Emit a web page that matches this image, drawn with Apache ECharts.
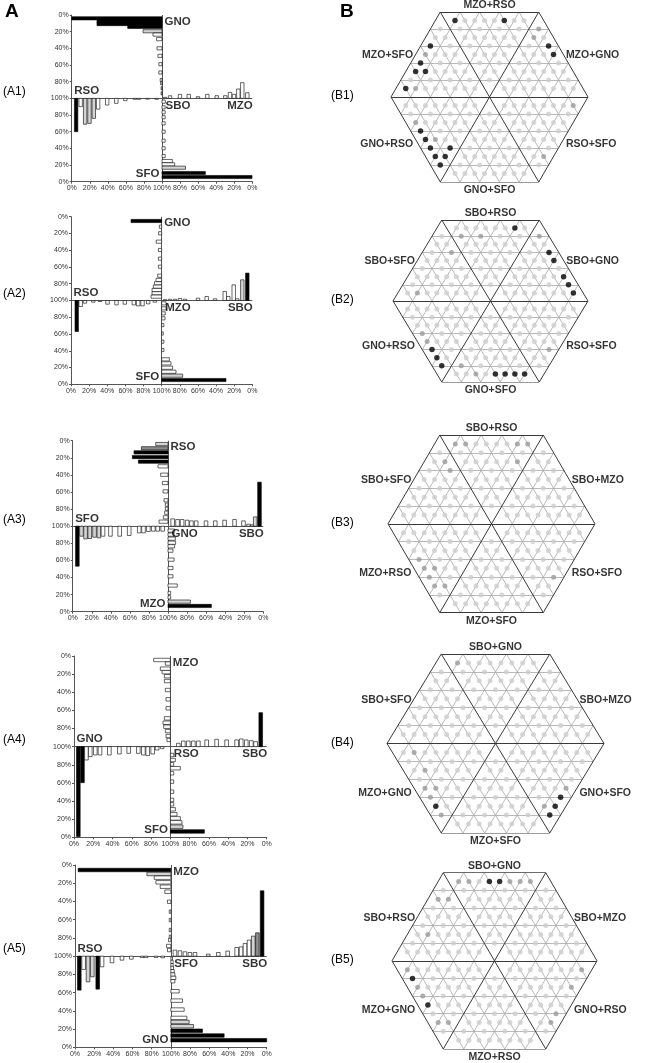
<!DOCTYPE html>
<html><head><meta charset="utf-8">
<script src="https://cdn.jsdelivr.net/npm/echarts@6/dist/echarts.min.js"></script>
<style>html,body{margin:0;padding:0;background:#fff}#c{width:645px;height:1063px}</style>
</head><body><div id="c"></div>
<script>
// ================= DATA =================
// Bars: [position on arm axis (0-200 panel %), bar length (%), shade 0=white 1=light grey 2=grey 3=black]
const A1_names = ['GNO','RSO','SFO','MZO','SBO']; // top, left, bottom, right, centre
const A1_top = [[4,100,3],[7.6,72,3],[10.9,72,3],[14.2,38,3],[19.5,21,1],[23.5,10,0],[29,6,0],[40,5.5,0],[49,4.5,0],[59,3.5,0],[69,3.5,0],[78,2,0],[82,1.5,0],[88,1,0],[94,1,0]];
const A1_left = [[4.9,40,3],[9.9,10,0],[14.9,31,1],[19.7,30,1],[24.5,24,1],[29.3,13,0],[39.3,8,0],[49.4,6,0],[59.4,2.8,0],[70,1.2,0],[74.5,1.2,0],[84,1,0],[94,1.2,0]];
const A1_bottom = [[104,3.7,0],[110.8,3.5,0],[116.7,3.5,0],[122.7,3.5,0],[130,3.5,0],[140,3.5,0],[150.8,3.5,0],[159.9,3.5,0],[169.2,3.5,0],[175.2,11.5,0],[179.2,14,0],[183.2,26,1],[189.6,48,3],[194.4,99.7,3]];
const A1_right = [[103.3,1.2,0],[108.9,3.1,0],[119.9,4.8,0],[129.6,4.8,0],[139.9,2,0],[150.2,4.8,0],[160.6,3.2,0],[170.1,3.2,0],[175.3,7.2,0],[179.7,4.8,0],[184.5,11.2,0],[188.9,18.8,0],[194.5,6.8,0]];

const A2_names = ['GNO','RSO','SFO','SBO','MZO'];
const A2_top = [[5.1,33.8,3],[11.9,2.5,0],[19.8,3.3,0],[29.8,6,0],[39.7,3.6,0],[50.1,3.6,0],[59.7,3.6,0],[70.4,4.4,0],[75.5,6.2,0],[79.5,8,0],[83.5,9.2,0],[87.5,10.6,0],[91.4,10.6,0],[95.4,11.7,0]];
const A2_left = [[6.3,37,3],[10.7,7.2,0],[15.4,3.2,0],[24.6,2,0],[32,1.2,0],[40.3,4.4,0],[50.2,5.2,0],[59.4,4.4,0],[69.3,5.2,0],[74.1,6.4,0],[78.9,6.4,0],[85.1,4,0],[92.5,2,0]];
const A2_bottom = [[103.4,4.8,0],[109.4,4.8,0],[115.4,4,0],[121.3,3.7,0],[129.3,2.5,0],[139.4,1.8,0],[149.1,2.5,0],[159.1,2.5,0],[170.2,8.5,0],[175,10.3,0],[180.2,12.1,0],[185,15.8,0],[189.7,23.2,1],[194.9,71,3]];
const A2_right = [[103.7,1,0],[109.2,1.5,0],[114.7,1.5,0],[120.2,2.4,0],[125.8,1.5,0],[140.1,2.8,0],[149.7,4.8,0],[158.9,2,0],[169.6,10.8,0],[173.5,4.8,0],[179.5,18.7,0],[183.5,2,0],[189,24.7,1],[194.5,32.7,3]];

const A3_names = ['RSO','SFO','MZO','SBO','GNO'];
const A3_top = [[3.9,12.9,1],[8.9,27.9,2],[13.6,35.7,3],[19.1,37.4,3],[24.5,31.1,3],[30,10.5,0],[39.8,7.7,0],[49.5,5.9,0],[59.3,5.2,0],[69.7,4.2,0],[74.8,2.8,0],[79.5,2.8,0],[84.2,3.5,0],[89.6,4.9,0],[94.7,9.4,0]];
const A3_left = [[4.9,46.8,3],[9.2,11.7,1],[13.5,14.8,1],[17.9,14.4,1],[22.9,12.9,1],[27.5,13.6,1],[31.8,11.7,0],[39.6,11.7,0],[49.3,11.7,0],[59.3,10.9,0],[69.8,7.8,0],[74.3,7.8,0],[79.4,6.2,0],[84.6,5.8,0],[89.2,5.8,0],[94.4,5.8,0]];
const A3_bottom = [[105.2,7,0],[109.9,6.4,0],[114.6,7.7,0],[119.3,8,0],[123.5,7,0],[128.6,5.2,0],[139.1,6.4,0],[148.9,5.2,0],[158.6,5.2,0],[169.4,9.7,0],[178.1,2.8,0],[183.2,2.8,0],[188.2,23.5,1],[193.3,45.5,3]];
const A3_right = [[104.9,8.6,0],[110,7.8,0],[114.8,7.8,0],[120.1,7,0],[124.6,6.2,0],[129.6,6.2,0],[139.9,6.2,0],[149.6,6.2,0],[159.4,7,0],[169.8,7.8,0],[179.2,6.2,0],[184.5,2.3,0],[188.5,1.6,0],[191.5,10.9,1],[196,51.5,3]];

const A4_names = ['MZO','GNO','SFO','SBO','RSO'];
const A4_top = [[4.4,17.3,0],[8.3,5.2,0],[14,10.4,0],[17.8,8.6,0],[22.3,6.2,0],[27.6,6.2,0],[37.5,5.2,0],[47.8,4.5,0],[57.7,4.5,0],[68.8,6.2,0],[73.6,7.6,0],[78,6.9,0],[82.8,5.2,0],[88.3,4.5,0],[92.6,3.5,0]];
const A4_left = [[4.5,99.3,3],[8.8,39.7,3],[12.9,14.7,0],[16.9,11,0],[22.1,9.2,0],[27,9.2,0],[36.7,9.2,0],[47.1,8.1,0],[56.8,7.4,0],[66.8,7.4,0],[72,9.2,0],[76.5,9.9,0],[81.7,8.1,0],[86.3,3.7,0],[91.5,2.2,0]];
const A4_bottom = [[109.2,3.5,0],[114.7,5.2,0],[119.5,3.5,0],[123.8,10.4,0],[129.4,3.5,0],[138.6,3.5,0],[149.7,3.5,0],[158.8,3.5,0],[163.6,3.5,0],[169.1,5.2,0],[174.6,6.9,0],[179.1,10.4,0],[183.5,12.1,0],[188.3,13.1,1],[193.5,35.3,3]];
const A4_right = [[108.3,3.7,0],[113.5,6.2,0],[118.7,6.2,0],[123.9,6.2,0],[129.1,6.2,0],[137.7,7.4,0],[148,8.1,0],[158.4,7.4,0],[168.8,7.4,0],[173.6,8.5,0],[178.8,7.4,0],[184,6.6,0],[188.5,5.5,0],[193.8,37.5,3]];

const A5_names = ['MZO','RSO','GNO','SBO','SFO'];
const A5_top = [[5.5,96.7,3],[9.9,25,1],[13.9,17.4,0],[19,15.6,0],[23.8,11.1,0],[29.3,6.3,0],[40.3,3.5,0],[51.2,1.7,0],[60.4,1.7,0],[71.3,1.7,0],[78.7,1.7,0],[82.3,2.4,0],[88.9,4.5,0],[93.3,3.5,0]];
const A5_left = [[4.5,37.3,3],[9,14.6,0],[13.6,28.2,1],[18.1,22.7,1],[23.7,36.2,3],[28.2,11.7,0],[38.6,7.3,0],[49,4.4,0],[58.8,3.3,0],[70,1.5,0],[74,1.5,0],[84.5,1.5,0],[91.5,1.8,0]];
const A5_bottom = [[102.7,1.7,0],[106.3,2.4,0],[110,2.4,0],[113,2.8,0],[116.6,3.5,0],[120.2,4.2,0],[123.9,5.2,0],[127.5,4.2,0],[138.5,8.7,0],[148.8,12.2,0],[158.6,13.9,0],[167.8,16.7,0],[172.2,19.1,1],[176.9,23.6,1],[181.8,33,3],[187.1,55.6,3],[192.2,100,3]];
const A5_right = [[104.3,6.6,0],[109.5,5.9,0],[114.7,4.8,0],[119.9,4,0],[125.2,4,0],[139,2.2,0],[149.5,4,0],[159.3,5.5,0],[168.7,9.5,0],[173.3,10.2,0],[177.4,13.9,0],[181.6,17.6,0],[186,22,1],[190.3,25.6,2],[195.2,71.7,3]];

const A_ticks = ['0%','20%','40%','60%','80%','100%','80%','60%','40%','20%','0%'];

// Hexagons: labels [top, upper-left, upper-right, lower-left, lower-right, bottom]
const B1_names = ['MZO+RSO','MZO+SFO','MZO+GNO','GNO+RSO','RSO+SFO','GNO+SFO'];
const B2_names = ['SBO+RSO','SBO+SFO','SBO+GNO','GNO+RSO','RSO+SFO','GNO+SFO'];
const B3_names = ['SBO+RSO','SBO+SFO','SBO+MZO','MZO+RSO','RSO+SFO','MZO+SFO'];
const B4_names = ['SBO+GNO','SBO+SFO','SBO+MZO','MZO+GNO','GNO+SFO','MZO+SFO'];
const B5_names = ['SBO+GNO','SBO+RSO','SBO+MZO','MZO+GNO','GNO+RSO','MZO+RSO'];
// highlighted dots: [x, row] in lattice units (side = 5 cells, row = cell heights from centre)
const B1_black = [[-1.75,4.5],[0.75,4.5],[-3,3],[-3.5,2],[-3.75,1.5],[-3.25,1.5],[-4.25,0.5],[3,3],[3.25,2.5],[-3.5,-2],[-3.25,-2.5],[-3,-3],[-2,-3],[-2.75,-3.5],[-2.25,-3.5],[-2.5,-4]];
const B1_grey = [[2.5,4],[2.25,3.5],[-3.25,2.5],[-3.75,0.5],[-3.5,1],[4.25,-0.5],[-3.75,-1.5],[-2.75,-2.5],[2.75,-3.5]];
const B2_black = [[1.25,4.5],[3,3],[3.25,2.5],[3.75,1.5],[4,1],[4.25,0.5],[-3,-3],[-2.75,-3.5],[-2.5,-4],[0.25,-4.5],[0.75,-4.5],[1.25,-4.5],[1.75,-4.5]];
const B2_grey = [[-1.75,4],[-0.25,4],[-1.75,3.5],[2.75,4],[3.25,3.5],[-3.5,1],[-3.5,-2],[-3.25,-2.5],[-1.5,-4],[-0.75,-4.5],[3.25,-3.5]];
const B3_black = [];
const B3_grey = [[-1.75,4.5],[-1.25,4.5],[-2,4],[-1.75,3.5],[1.25,4.5],[1.75,4.5],[1.25,3.5],[-3.5,-2],[-3,-2],[-3.25,-2.5],[-2.75,-2.5],[-3,-3],[-2.75,-3.5],[-2.25,-3.5],[-2.5,-3],[3.25,-3.5]];
const B4_black = [[-2.75,-3.5],[3,-3],[2.75,-3.5],[2.5,-4]];
const B4_grey = [[-1.75,4.5],[-3.5,-1],[-3.25,-1.5],[-3,-2],[-3.25,-2.5],[-2.75,-2.5],[-3,-3],[-2.5,-3.5],[-2.5,-4],[3.25,-2.5],[2.25,-3.5]];
const B5_black = [[-0.25,4.5],[0.25,4.5],[-4,-1],[-3.25,-2.5]];
const B5_grey = [[-1.75,4.5],[-1.25,4.5],[0.75,4.5],[1.25,4.5],[1.75,4.5],[-2,4],[-2.5,3],[-3,2],[-4.25,-0.5],[-3.75,-1.5],[-3.5,-2],[-2.75,-3.5],[-2.25,-3.5],[4.25,-0.5],[3.75,-1.5],[3.25,-3.5],[2.75,-3.5]];

// ================= LAYOUT / STYLE =================
const SHADES = ['#ffffff','#d4d4d4','#8c8c8c','#000000'];
const FONT = '"Liberation Sans", Arial, sans-serif';
const A_panels = [
  {names:A1_names, arms:[A1_top,A1_left,A1_bottom,A1_right], box:[71.7,252.3,15,181.7], tag:'(A1)'},
  {names:A2_names, arms:[A2_top,A2_left,A2_bottom,A2_right], box:[71,252.3,216.7,384.3], tag:'(A2)'},
  {names:A3_names, arms:[A3_top,A3_left,A3_bottom,A3_right], box:[72.7,263.3,440.7,611.7], tag:'(A3)'},
  {names:A4_names, arms:[A4_top,A4_left,A4_bottom,A4_right], box:[74,266.7,656,837.3], tag:'(A4)'},
  {names:A5_names, arms:[A5_top,A5_left,A5_bottom,A5_right], box:[75,266.7,865,1047.3], tag:'(A5)'}
];
const B_panels = [
  {names:B1_names, black:B1_black, grey:B1_grey, box:[391,588,12,182], tag:'(B1)'},
  {names:B2_names, black:B2_black, grey:B2_grey, box:[393,588,220,382], tag:'(B2)'},
  {names:B3_names, black:B3_black, grey:B3_grey, box:[388,595,435,612.7], tag:'(B3)'},
  {names:B4_names, black:B4_black, grey:B4_grey, box:[387,604,654,833], tag:'(B4)'},
  {names:B5_names, black:B5_black, grey:B5_grey, box:[392,597,872.7,1049], tag:'(B5)'}
];
const BAR_T = 3.8;

const option = {animation:false, backgroundColor:'#fff', grid:[], xAxis:[], yAxis:[], series:[], graphic:[]};

function tickFmt(v){ return A_ticks[Math.round(v/20)]; }

A_panels.forEach((p,i)=>{
  const [l,r,t,b] = p.box;
  option.grid.push({left:l, top:t, width:r-l, height:b-t});
  const axCommon = {gridIndex:i, type:'value', min:0, max:200, interval:20,
    axisLine:{show:true, onZero:false, lineStyle:{color:'#555', width:1}},
    axisTick:{show:true, length:2, lineStyle:{color:'#555'}},
    axisLabel:{fontSize:7, color:'#333', margin:3, formatter:tickFmt, fontFamily:FONT, showMinLabel:true, showMaxLabel:true},
    splitLine:{show:false}};
  option.xAxis.push(Object.assign({position:'bottom'}, axCommon));
  option.yAxis.push(Object.assign({position:'left', inverse:true}, axCommon));
  const rects = [];
  const h = BAR_T/2;
  p.arms[0].forEach(([pos,len,s])=>rects.push([100-len,pos-h,100,pos+h,s]));
  p.arms[1].forEach(([pos,len,s])=>rects.push([pos-h,100,pos+h,100+len,s]));
  p.arms[2].forEach(([pos,len,s])=>rects.push([100,pos-h,100+len,pos+h,s]));
  p.arms[3].forEach(([pos,len,s])=>rects.push([pos-h,100-len,pos+h,100,s]));
  option.series.push({type:'lines', coordinateSystem:'cartesian2d', xAxisIndex:i, yAxisIndex:i, silent:true, z:2,
    data:[{coords:[[100,0],[100,200]]},{coords:[[0,100],[200,100]]}], lineStyle:{color:'#555', width:1, opacity:1}});
  option.series.push({type:'custom', coordinateSystem:'cartesian2d', xAxisIndex:i, yAxisIndex:i, silent:true, z:3,
    data:rects, encode:{x:[0,2], y:[1,3]},
    renderItem:(params, api)=>{
      const p1 = api.coord([api.value(0), api.value(1)]);
      const p2 = api.coord([api.value(2), api.value(3)]);
      return {type:'rect', shape:{x:Math.min(p1[0],p2[0]), y:Math.min(p1[1],p2[1]), width:Math.abs(p2[0]-p1[0]), height:Math.abs(p2[1]-p1[1])},
        style:{fill:SHADES[api.value(4)], stroke:'#000', lineWidth:0.6}};
    }});
  const n = p.names;
  option.series.push({type:'scatter', xAxisIndex:i, yAxisIndex:i, silent:true, z:6, symbolSize:1, itemStyle:{color:'rgba(0,0,0,0)'},
    label:{show:true, formatter:'{b}', fontSize:11.5, fontWeight:'bold', color:'#000', fontFamily:FONT},
    data:[
      {name:n[0], value:[100,0], label:{position:[3,1], align:'left', verticalAlign:'top'}},
      {name:n[1], value:[0,100], label:{position:[3,-1], align:'left', verticalAlign:'bottom'}},
      {name:n[2], value:[100,200], label:{position:[-2,-1], align:'right', verticalAlign:'bottom'}},
      {name:n[3], value:[200,100], label:{position:[1,2], align:'right', verticalAlign:'top'}},
      {name:n[4], value:[100,100], label:{position:[4,2], align:'left', verticalAlign:'top'}}
    ]});
  option.graphic.push({type:'text', left:3, top:(t+b)/2-13, style:{text:p.tag, font:'12px '+FONT, fill:'#000'}});
});

// ---- hexagon lattice ----
const N = 5, H = Math.sqrt(3)/2;
function rot(pt, a){ const c=Math.cos(a), s=Math.sin(a); return [pt[0]*c-pt[1]*s, pt[0]*s+pt[1]*c]; }
const lightSegs = [], darkSegs = [];
for (let k=-(N-1); k<=N-1; k++){
  const y = k*H, half = N-Math.abs(k)/2;
  for (const a of [0, Math.PI/3, -Math.PI/3]){
    const seg = {coords:[rot([-half,y],a), rot([half,y],a)]};
    (k===0 ? darkSegs : lightSegs).push(seg);
  }
}
const hexV = [[N,0],[N/2,N*H],[-N/2,N*H],[-N,0],[-N/2,-N*H],[N/2,-N*H]];
for (let i=0;i<6;i++) darkSegs.push({coords:[hexV[i], hexV[(i+1)%6]]});
const latticeDots = [];
for (let r2=-(2*N-1); r2<=2*N-1; r2++){
  if (r2===0) continue;
  const y = r2*H/2;
  for (let m=-4*N; m<=4*N; m++){
    let x;
    if (r2%2===0){ const k=Math.abs(r2/2); x = (k%2===0) ? m+0.5 : m; }
    else x = 0.25+0.5*m;
    if (Math.abs(x) >= N-Math.abs(r2)/4-1e-6) continue;
    if (Math.abs(x-r2/4)<1e-6 || Math.abs(x+r2/4)<1e-6) continue;
    latticeDots.push([x,y]);
  }
}
function nearestIdx(pt){
  let best=-1, bd=1e9; const y = pt[1]*H;
  latticeDots.forEach((d,i)=>{ const dd=(d[0]-pt[0])**2+(d[1]-y)**2; if(dd<bd){bd=dd;best=i;} });
  return best;
}

B_panels.forEach((p,j)=>{
  const gi = 5+j;
  const [l,r,t,b] = p.box;
  option.grid.push({left:l, top:t, width:r-l, height:b-t});
  option.xAxis.push({gridIndex:gi, type:'value', min:-N, max:N, show:false});
  option.yAxis.push({gridIndex:gi, type:'value', min:-N*H, max:N*H, show:false});
  option.series.push({type:'lines', coordinateSystem:'cartesian2d', xAxisIndex:gi, yAxisIndex:gi, silent:true, z:2,
    data:lightSegs, lineStyle:{color:'#a8a8a8', width:0.8, opacity:1}});
  option.series.push({type:'lines', coordinateSystem:'cartesian2d', xAxisIndex:gi, yAxisIndex:gi, silent:true, z:3,
    data:darkSegs, lineStyle:{color:'#3a3a3a', width:1, opacity:1}});
  const state = latticeDots.map(()=>0);
  p.grey.forEach(pt=>{ state[nearestIdx(pt)] = 1; });
  p.black.forEach(pt=>{ state[nearestIdx(pt)] = 2; });
  const sets = [[],[],[]];
  latticeDots.forEach((d,i)=>sets[state[i]].push(d));
  const cols = ['#cdcdcd','#9a9a9a','#000'], sizes=[5,5,5.5];
  sets.forEach((s,si)=>option.series.push({type:'scatter', xAxisIndex:gi, yAxisIndex:gi, silent:true, z:4+si,
    symbolSize:sizes[si], itemStyle:{color:cols[si]}, data:s}));
  const n = p.names;
  option.series.push({type:'scatter', xAxisIndex:gi, yAxisIndex:gi, silent:true, z:8, symbolSize:1, itemStyle:{color:'rgba(0,0,0,0)'},
    label:{show:true, formatter:'{b}', fontSize:10.5, fontWeight:'bold', color:'#000', fontFamily:FONT},
    data:[
      {name:n[0], value:[0,N*H], label:{position:'top', distance:1}},
      {name:n[1], value:[-0.75*N,N*H/2], label:{position:'left', distance:2, offset:[0,1]}},
      {name:n[2], value:[0.75*N,N*H/2], label:{position:'right', distance:2, offset:[0,1]}},
      {name:n[3], value:[-0.75*N,-N*H/2], label:{position:'left', distance:2, offset:[0,5]}},
      {name:n[4], value:[0.75*N,-N*H/2], label:{position:'right', distance:2, offset:[0,5]}},
      {name:n[5], value:[0,-N*H], label:{position:'bottom', distance:2}}
    ]});
  option.graphic.push({type:'text', left:331, top:(t+b)/2-7, style:{text:p.tag, font:'12px '+FONT, fill:'#000'}});
});

option.graphic.push({type:'text', left:5, top:2, style:{text:'A', font:'bold 19px '+FONT, fill:'#000'}});
option.graphic.push({type:'text', left:340, top:2, style:{text:'B', font:'bold 19px '+FONT, fill:'#000'}});

const chart = echarts.init(document.getElementById('c'), null, {renderer:'canvas'});
chart.setOption(option);
</script>
</body></html>
